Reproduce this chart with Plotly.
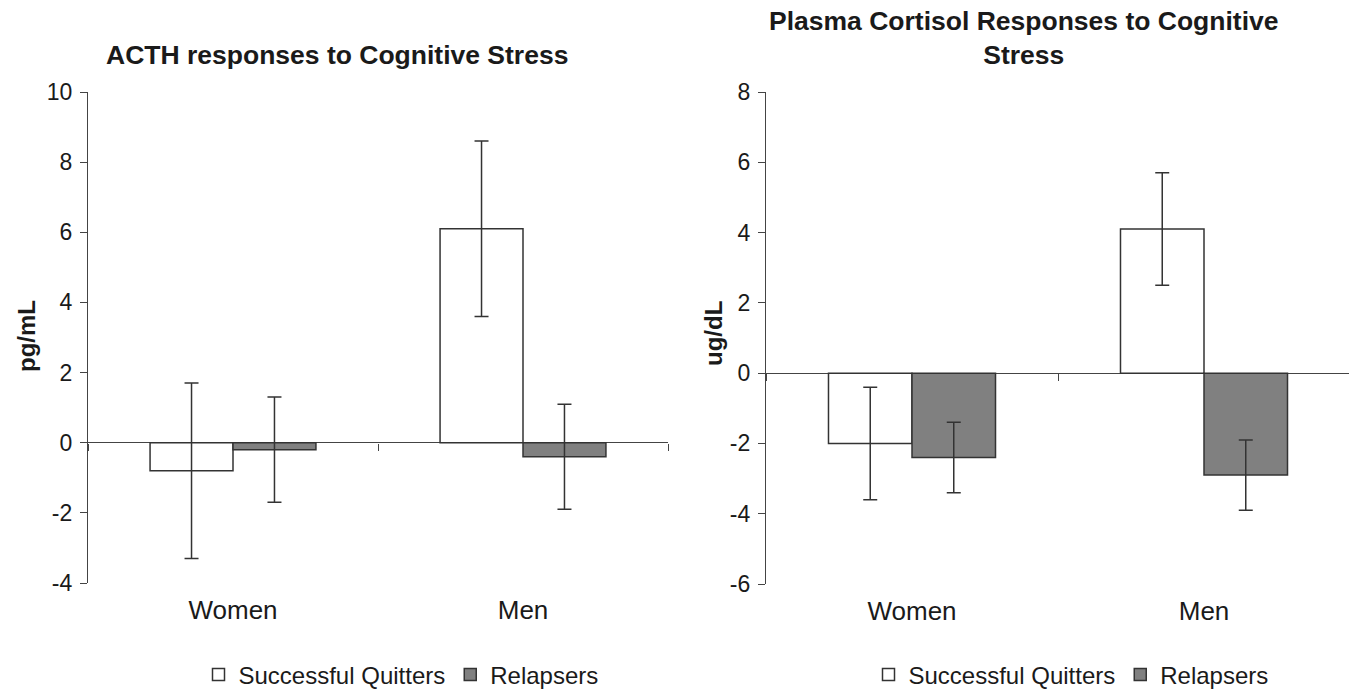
import plotly.graph_objects as go

# ---- data ----
groups = ["Women", "Men"]
series_names = ["Successful Quitters", "Relapsers"]

acth_quitters = [-0.8, 6.1]
acth_quitters_err = [2.5, 2.5]
acth_relapsers = [-0.2, -0.4]
acth_relapsers_err = [1.5, 1.5]

cort_quitters = [-2.0, 4.1]
cort_quitters_err = [1.6, 1.6]
cort_relapsers = [-2.4, -2.9]
cort_relapsers_err = [1.0, 1.0]

acth_ticks = [-4, -2, 0, 2, 4, 6, 8, 10]
cort_ticks = [-6, -4, -2, 0, 2, 4, 6, 8]

# ---- style ----
FONT = "Liberation Sans, Arial, sans-serif"
TXT = "#1a1a1a"
AX = "#444444"
W, H = 1349, 689
fills = ["#ffffff", "#808080"]

# layout geometry (paper fractions)
l_xdom = [88 / W, 668 / W]
l_ydom = [(H - 583) / H, (H - 92) / H]
r_xdom = [766 / W, 1.0]
r_ydom = [(H - 584) / H, (H - 92) / H]
cat_px = 292.0
r_xrange = [-0.5, -0.5 + (r_xdom[1] - r_xdom[0]) * W / cat_px]

fig = go.Figure()

def add_bars(xa, ya, vals_list, errs_list, legend):
    for name, vals, errs, fill in zip(series_names, vals_list, errs_list, fills):
        fig.add_trace(go.Bar(
            x=groups, y=vals, name=name, xaxis=xa, yaxis=ya, legend=legend,
            marker=dict(color=fill, line=dict(color="#333333", width=1.5)),
            error_y=dict(type="data", array=errs, visible=True,
                         color="#333333", thickness=1.5, width=7),
        ))

add_bars("x", "y", [acth_quitters, acth_relapsers],
         [acth_quitters_err, acth_relapsers_err], "legend")
add_bars("x2", "y2", [cort_quitters, cort_relapsers],
         [cort_quitters_err, cort_relapsers_err], "legend2")

# invisible helper traces so the zero-line category divider axes get drawn
for xa, ya in (("x3", "y"), ("x4", "y2")):
    fig.add_trace(go.Scatter(x=groups, y=[0, 0], xaxis=xa, yaxis=ya, mode="markers",
                             marker=dict(opacity=0), showlegend=False, hoverinfo="skip"))

def zero_pos(ydom, ticks):
    lo, hi = ticks[0], ticks[-1]
    return ydom[0] + (0 - lo) / (hi - lo) * (ydom[1] - ydom[0])

xcommon = dict(type="category", categoryorder="array", categoryarray=groups,
               showgrid=False, zeroline=False, showline=False,
               ticks="outside", ticklen=4, tickcolor="rgba(0,0,0,0)",
               tickfont=dict(family=FONT, size=26, color=TXT), fixedrange=True)
ycommon = dict(showgrid=False, showline=True, linecolor=AX, linewidth=1.3,
               ticks="outside", ticklen=7, tickwidth=1.2, tickcolor=AX,
               zeroline=True, zerolinecolor=AX, zerolinewidth=1.3,
               ticklabelstandoff=3,
               tickfont=dict(family=FONT, size=23, color=TXT), fixedrange=True)
divcommon = dict(type="category", categoryorder="array", categoryarray=groups,
                 anchor="free", showgrid=False, zeroline=False, showline=False,
                 ticks="outside", tickson="boundaries", ticklen=7, tickwidth=1.3,
                 tickcolor=AX, showticklabels=False, fixedrange=True)

leg = dict(orientation="h", xanchor="center", y=(H - 675) / H, yanchor="middle",
           font=dict(family=FONT, size=24, color=TXT),
           itemwidth=30, bgcolor="rgba(0,0,0,0)")

fig.update_layout(
    width=W, height=H,
    margin=dict(l=0, r=0, t=0, b=0, autoexpand=False),
    paper_bgcolor="white", plot_bgcolor="white",
    barmode="group", bargap=0.428, bargroupgap=0.0,
    font=dict(family=FONT, color=TXT),
    xaxis=dict(domain=l_xdom, range=[-0.5, 1.5], anchor="y", **xcommon),
    yaxis=dict(domain=l_ydom, range=[acth_ticks[0], acth_ticks[-1]],
               tickvals=acth_ticks, ticktext=[str(t) for t in acth_ticks],
               anchor="x", **ycommon),
    xaxis2=dict(domain=r_xdom, range=r_xrange, anchor="y2", **xcommon),
    yaxis2=dict(domain=r_ydom, range=[cort_ticks[0], cort_ticks[-1]],
                tickvals=cort_ticks, ticktext=[str(t) for t in cort_ticks],
                anchor="x2", **ycommon),
    xaxis3=dict(overlaying="x", domain=l_xdom, range=[-0.5, 1.5],
                position=zero_pos(l_ydom, acth_ticks), **divcommon),
    xaxis4=dict(overlaying="x2", domain=r_xdom, range=r_xrange,
                position=zero_pos(r_ydom, cort_ticks), **divcommon),
    legend=dict(x=401 / W, **leg),
    legend2=dict(x=1071 / W, **leg),
    annotations=[
        dict(text="<b>ACTH responses to Cognitive Stress</b>", x=337 / W, y=(H - 55) / H,
             xref="paper", yref="paper", showarrow=False, xanchor="center", yanchor="middle",
             font=dict(family=FONT, size=26.5, color=TXT)),
        dict(text="<b>Plasma Cortisol Responses to Cognitive<br>Stress</b>", x=1024 / W,
             y=(H - 38) / H, xref="paper", yref="paper", showarrow=False,
             xanchor="center", yanchor="middle", align="center",
             font=dict(family=FONT, size=26.5, color=TXT)),
        dict(text="<b>pg/mL</b>", x=26 / W, y=(H - 336) / H, xref="paper", yref="paper",
             showarrow=False, textangle=-90, xanchor="center", yanchor="middle",
             font=dict(family=FONT, size=24, color=TXT)),
        dict(text="<b>ug/dL</b>", x=713 / W, y=(H - 334) / H, xref="paper", yref="paper",
             showarrow=False, textangle=-90, xanchor="center", yanchor="middle",
             font=dict(family=FONT, size=24, color=TXT)),
    ],
)

fig.write_html("out.html")
